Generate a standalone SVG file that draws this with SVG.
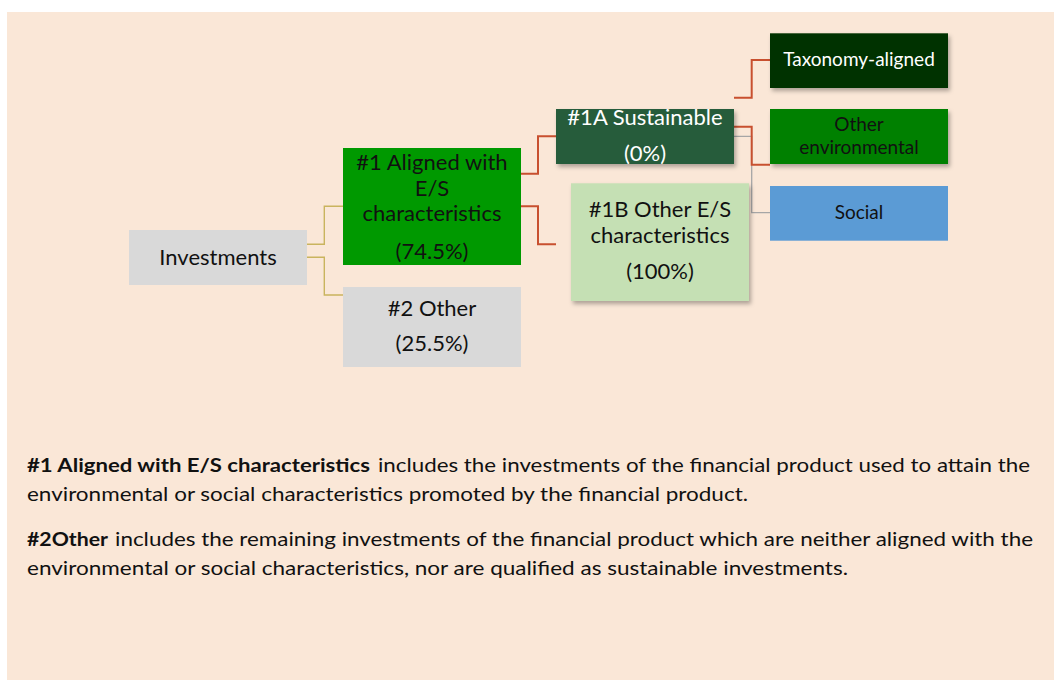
<svg xmlns="http://www.w3.org/2000/svg" width="1054" height="680" viewBox="0 0 1054 680">
  <style>
    .t { font-family: Lato, "Noto Sans", "Liberation Sans", sans-serif; text-anchor: middle; }
    .big { font-size: 22px; fill: #111; }
    .small { font-size: 19px; fill: #111; }
    .w { fill: #ffffff; }
    .p { font-family: Lato, "Noto Sans", "Liberation Sans", sans-serif; font-size: 19px; fill: #111; }
    .b { font-weight: bold; }
    .khaki { stroke: #c9b45e; stroke-width: 1.4; fill: none; }
    .red { stroke: #c8502f; stroke-width: 2; fill: none; }
    .gray { stroke: #a6a6a6; stroke-width: 1.3; fill: none; }
  </style>
  <defs>
    <filter id="sh" x="-10%" y="-10%" width="130%" height="140%">
      <feDropShadow dx="2" dy="3" stdDeviation="2" flood-color="#000" flood-opacity="0.3"/>
    </filter>
  </defs>
  <rect x="0" y="0" width="1054" height="680" fill="#ffffff"/>
  <rect x="7" y="12" width="1047" height="668" fill="#fae7d7"/>

  <g id="connectors">
    <polyline class="khaki" points="307,244.3 324.3,244.3 324.3,206.3 343,206.3"/>
    <polyline class="khaki" points="307,257.3 324.3,257.3 324.3,295 343,295"/>
    <polyline class="red" points="521,173.7 538,173.7 538,136.3 556,136.3"/>
    <polyline class="red" points="521,206.3 538,206.3 538,244.3 556,244.3"/>
    <polyline class="red" points="734,97.7 751.7,97.7 751.7,60 770,60"/>
    <polyline class="gray" points="734,136.3 751.7,136.3 751.7,212.7 770,212.7"/>
    <polyline class="red" points="734,126.7 751.7,126.7 751.7,164.7 770,164.7"/>
  </g>

  <g id="investments">
    <rect x="129" y="230" width="178" height="55" fill="#d9d9d9"/>
    <text class="t big" x="218" y="265">Investments</text>
  </g>

  <g id="aligned">
    <rect x="343" y="148" width="178" height="117" fill="#009900"/>
    <text class="t big" x="432" y="170">#1 Aligned with</text>
    <text class="t big" x="432" y="196">E/S</text>
    <text class="t big" x="432" y="221">characteristics</text>
    <text class="t big" x="432" y="259">(74.5%)</text>
  </g>

  <g id="other2">
    <rect x="343" y="287" width="178" height="80" fill="#d9d9d9"/>
    <text class="t big" x="432" y="316">#2 Other</text>
    <text class="t big" x="432" y="351">(25.5%)</text>
  </g>

  <g id="sustainable">
    <rect x="556" y="109" width="178" height="55" fill="#265b3b" filter="url(#sh)"/>
    <text class="t big w" x="645" y="125">#1A Sustainable</text>
    <text class="t big w" x="645" y="161">(0%)</text>
  </g>

  <g id="otherES">
    <rect x="571" y="183.3" width="178" height="117.7" fill="#c5e0b4" filter="url(#sh)"/>
    <text class="t big" x="660" y="217">#1B Other E/S</text>
    <text class="t big" x="660" y="243">characteristics</text>
    <text class="t big" x="660" y="279">(100%)</text>
  </g>

  <g id="taxonomy">
    <rect x="770" y="33.3" width="178" height="54.7" fill="#003300" filter="url(#sh)"/>
    <text class="t small w" x="859" y="66">Taxonomy-aligned</text>
  </g>

  <g id="otherenv">
    <rect x="770" y="109" width="178" height="55" fill="#008000" filter="url(#sh)"/>
    <text class="t small" x="859" y="131">Other</text>
    <text class="t small" x="859" y="154">environmental</text>
  </g>

  <g id="social">
    <rect x="770" y="186" width="178" height="54.7" fill="#5b9bd5"/>
    <text class="t small" x="859" y="219">Social</text>
  </g>

  <g id="notes">
    <text class="p b" x="27" y="472" textLength="343" lengthAdjust="spacingAndGlyphs">#1 Aligned with E/S characteristics</text>
    <text class="p" x="378" y="472" textLength="652" lengthAdjust="spacingAndGlyphs">includes the investments of the financial product used to attain the</text>
    <text class="p" x="27" y="501" textLength="721" lengthAdjust="spacingAndGlyphs">environmental or social characteristics promoted by the financial product.</text>
    <text class="p b" x="27" y="546" textLength="81" lengthAdjust="spacingAndGlyphs">#2Other</text>
    <text class="p" x="115" y="546" textLength="918" lengthAdjust="spacingAndGlyphs">includes the remaining investments of the financial product which are neither aligned with the</text>
    <text class="p" x="27" y="575" textLength="821" lengthAdjust="spacingAndGlyphs">environmental or social characteristics, nor are qualified as sustainable investments.</text>
  </g>
</svg>
